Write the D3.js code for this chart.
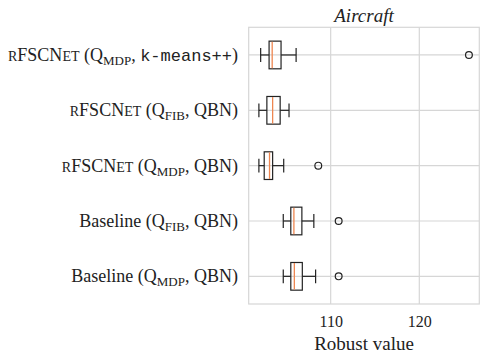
<!DOCTYPE html>
<html>
<head>
<meta charset="utf-8">
<script src="https://cdn.jsdelivr.net/npm/d3@7"></script>
<style>
  body { margin: 0; background: #fff; }
  svg { display: block; }
  .sc { text-transform: uppercase; }
</style>
</head>
<body>
<svg id="chart" width="488" height="361"></svg>
<script>
// row labels, top to bottom
var names = ["rFSCNet", "rFSCNet", "rFSCNet", "Baseline", "Baseline"];
var subs = ["MDP", "FIB", "MDP", "FIB", "MDP"];
var args = ["k-means++", "QBN", "QBN", "QBN", "QBN"];

// box stats
var whiskLo = [102.1, 101.9, 101.9, 104.65, 104.65];
var q1 = [103.05, 102.8, 102.5, 105.5, 105.5];
var med = [103.4, 103.45, 103.1, 105.85, 105.9];
var q3 = [104.4, 104.3, 103.45, 106.75, 106.8];
var whiskHi = [106.1, 105.3, 104.7, 108.1, 108.3];
var outliers = [[125.6], [], [108.6], [110.9], [110.9]];

var xTicks = [110, 120];

var svg = d3.select("svg#chart"),
  margin = { top: 27.3, right: 8.7, bottom: 57, left: 248.7 },
  width = +svg.attr("width") - margin.left - margin.right,
  height = +svg.attr("height") - margin.top - margin.bottom,
  g = svg.append("g")
    .attr("transform", "translate(" + margin.left + "," + margin.top + ")");

var serif = "'Liberation Serif', 'Times New Roman', serif";

var x = d3.scaleLinear().domain([100.75, 126.77]).range([0, width]);
var y = d3.scaleLinear().domain([0.5, 5.5]).range([0, height]);

var rows = d3.range(names.length);

// grid
g.append("g").selectAll("line").data(xTicks).enter().append("line")
  .attr("x1", function (d) { return x(d); })
  .attr("x2", function (d) { return x(d); })
  .attr("y1", 0).attr("y2", height)
  .attr("stroke", "#d6d6d6").attr("stroke-width", 1.2);
g.append("g").selectAll("line").data(rows).enter().append("line")
  .attr("x1", 0).attr("x2", width)
  .attr("y1", function (d) { return y(d + 1); })
  .attr("y2", function (d) { return y(d + 1); })
  .attr("stroke", "#d6d6d6").attr("stroke-width", 1.2);

// frame
g.append("rect")
  .attr("width", width).attr("height", height)
  .attr("fill", "none").attr("stroke", "#d6d6d6").attr("stroke-width", 1.2);

var boxH = y(1.25) - y(1), capH = y(1.125) - y(1);
var boxes = g.append("g").selectAll("g").data(rows).enter().append("g")
  .attr("transform", function (i) { return "translate(0," + y(i + 1) + ")"; });

var ink = "#222";
boxes.append("line")
  .attr("x1", function (i) { return x(whiskLo[i]); })
  .attr("x2", function (i) { return x(q1[i]); })
  .attr("stroke", ink).attr("stroke-width", 1.2);
boxes.append("line")
  .attr("x1", function (i) { return x(q3[i]); })
  .attr("x2", function (i) { return x(whiskHi[i]); })
  .attr("stroke", ink).attr("stroke-width", 1.2);
[whiskLo, whiskHi].forEach(function (arr) {
  boxes.append("line")
    .attr("x1", function (i) { return x(arr[i]); })
    .attr("x2", function (i) { return x(arr[i]); })
    .attr("y1", -capH).attr("y2", capH)
    .attr("stroke", ink).attr("stroke-width", 1.2);
});
boxes.append("rect")
  .attr("x", function (i) { return x(q1[i]); })
  .attr("width", function (i) { return x(q3[i]) - x(q1[i]); })
  .attr("y", -boxH).attr("height", 2 * boxH)
  .attr("fill", "none").attr("stroke", ink).attr("stroke-width", 1.2);
boxes.append("line")
  .attr("x1", function (i) { return x(med[i]); })
  .attr("x2", function (i) { return x(med[i]); })
  .attr("y1", -boxH + 0.6).attr("y2", boxH - 0.6)
  .attr("stroke", "#ee8650").attr("stroke-width", 1.3);
boxes.selectAll("circle").data(function (i) { return outliers[i]; })
  .enter().append("circle")
  .attr("cx", function (d) { return x(d); })
  .attr("r", 3.4)
  .attr("fill", "none").attr("stroke", ink).attr("stroke-width", 1.2);

// x axis
var xAxis = g.append("g")
  .attr("transform", "translate(0," + height + ")")
  .call(d3.axisBottom(x).tickValues(xTicks).tickSize(0).tickPadding(12));
xAxis.select(".domain").remove();
xAxis.selectAll("text")
  .attr("font-family", serif).attr("font-size", 16).attr("fill", "#222");

svg.append("text")
  .attr("x", margin.left + width / 2).attr("y", 350)
  .attr("text-anchor", "middle")
  .attr("font-family", serif).attr("font-size", 19).attr("fill", "#222")
  .text("Robust value");

svg.append("text")
  .attr("x", margin.left + width / 2).attr("y", 21.5)
  .attr("text-anchor", "middle")
  .attr("font-family", serif).attr("font-style", "italic")
  .attr("font-size", 19).attr("fill", "#222")
  .text("Aircraft");

// y labels
var labels = svg.append("g").selectAll("text").data(rows).enter().append("text")
  .attr("x", 238)
  .attr("y", function (i) { return margin.top + y(i + 1) + 6; })
  .attr("text-anchor", "end")
  .attr("font-family", serif).attr("font-size", 18).attr("fill", "#222");

labels.each(function (i) {
  var t = d3.select(this);
  if (names[i] === "rFSCNet") {
    // small caps by hand: lowercase letters drawn as smaller capitals
    names[i].split(/([a-z]+)/).filter(Boolean).forEach(function (part) {
      var sp = t.append("tspan").text(part);
      if (/[a-z]/.test(part)) sp.attr("class", "sc").attr("font-size", 14);
    });
  } else {
    t.append("tspan").text(names[i]);
  }
  t.append("tspan").text(" (Q");
  t.append("tspan").attr("font-size", 13).attr("dy", 4).text(subs[i]);
  t.append("tspan").attr("dy", -4).text(", ");
  if (args[i] === "k-means++") {
    t.append("tspan")
      .attr("font-family", "'Liberation Mono', 'DejaVu Sans Mono', monospace")
      .attr("font-size", 17).text(args[i]);
  } else {
    t.append("tspan").text(args[i]);
  }
  t.append("tspan").text(")");
});
</script>
</body>
</html>
